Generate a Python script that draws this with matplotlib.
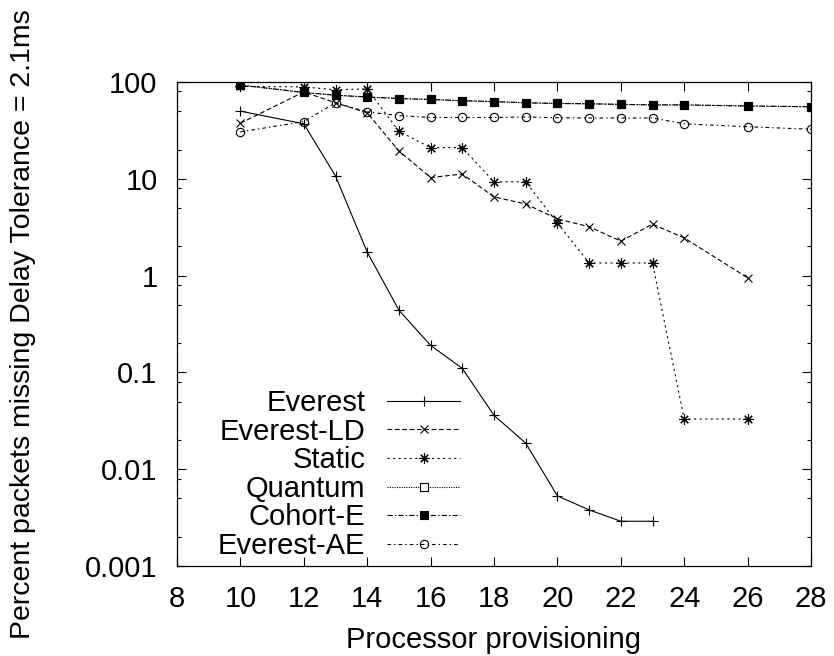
import matplotlib
matplotlib.use('Agg')
import matplotlib.pyplot as plt
from matplotlib.ticker import LogLocator, FixedLocator, NullFormatter

plt.rcParams['font.family'] = ['Liberation Sans', 'DejaVu Sans']
plt.rcParams['font.size'] = 21
plt.rcParams['lines.scale_dashes'] = False

# Fraction of packets missing the 2.1ms delay tolerance, per scheme
x_everest = [10, 12, 13, 14, 15, 16, 17, 18, 19, 20, 21, 22, 23]
everest = [50, 37, 10.7, 1.75, 0.44, 0.19, 0.11, 0.036, 0.0186, 0.0053, 0.0038, 0.0029, 0.0029]

x_ld = [10, 12, 13, 14, 15, 16, 17, 18, 19, 20, 21, 22, 23, 24, 26]
everest_ld = [37.5, 79, 61, 48, 19.4, 10.3, 11.2, 6.5, 5.5, 3.85, 3.2, 2.27, 3.4, 2.45, 0.95]

x_static = [10, 12, 13, 14, 15, 16, 17, 18, 19, 20, 21, 22, 23, 24, 26]
static = [90, 89, 83, 85, 31, 21, 21, 9.3, 9.3, 3.5, 1.35, 1.35, 1.35, 0.033, 0.033]

x_cohort = [10, 12, 13, 14, 15, 16, 17, 18, 19, 20, 21, 22, 23, 24, 26, 28]
quantum = [93, 78, 73, 70, 67.5, 66, 64, 62.7, 61, 60, 59.6, 58.7, 58, 58, 56.5, 55.5]
cohort_e = [93, 78, 73, 70, 67.5, 66, 64, 62.7, 61, 60, 59.6, 58.7, 58, 58, 56.5, 55.5]

x_ae = [10, 12, 13, 14, 15, 16, 17, 18, 19, 20, 21, 22, 23, 24, 26, 28]
everest_ae = [30.5, 39, 61, 49, 45, 43, 43, 43, 43.5, 42.7, 42.5, 42.5, 42.5, 37, 34.5, 32.5]

x_ticks = [8, 10, 12, 14, 16, 18, 20, 22, 24, 26, 28]
y_ticks = [0.001, 0.01, 0.1, 1, 10, 100]
y_ticklabels = ['0.001', '0.01', '0.1', '1', '10', '100']

fig = plt.figure(figsize=(8.34, 6.56), dpi=100)
ax = fig.add_axes([177 / 834, 1 - 566 / 656, 634 / 834, 484 / 656])

lw = 0.8
ax.plot(x_everest, everest, color='black', lw=lw, ls='-', marker='+', ms=7,
        mew=0.8, label='Everest')
ax.plot(x_ld, everest_ld, color='black', lw=lw, ls=(0, (3.4, 1.9)), marker='x',
        ms=6, mew=0.8, label='Everest-LD')
ax.plot(x_static, static, color='black', lw=lw, ls=(0, (1.5, 2.5)), marker=(8, 2, 0),
        ms=7.5, mew=0.8, label='Static')
ax.plot(x_cohort, quantum, color='black', lw=lw, ls=(0, (0.8, 0.9)), marker='s',
        ms=5.5, mew=0.8, mfc='white', label='Quantum', zorder=1.5)
ax.plot(x_cohort, cohort_e, color='black', lw=lw, ls=(0, (3.8, 1.5, 1, 1.5)), marker='s',
        ms=6, mew=0.8, label='Cohort-E')
ax.plot(x_ae, everest_ae, color='black', lw=lw, ls=(0, (2.6, 2.2, 1, 2.2)), marker='o',
        ms=6, mew=0.8, mfc='none', label='Everest-AE')

ax.set_yscale('log')
ax.set_xlim(8, 28)
ax.set_ylim(0.001, 100)
ax.xaxis.set_major_locator(FixedLocator(x_ticks))
ax.yaxis.set_major_locator(FixedLocator(y_ticks))
ax.set_yticklabels(y_ticklabels)
ax.yaxis.set_minor_locator(LogLocator(base=10, subs=[2, 5, 8]))
ax.yaxis.set_minor_formatter(NullFormatter())

for side in ax.spines.values():
    side.set_linewidth(0.9)
ax.tick_params(which='both', direction='in', top=True, right=True, width=0.8)
ax.tick_params(which='major', length=6.5, labelsize=21)
ax.tick_params(axis='x', which='major', pad=14)
ax.tick_params(axis='y', which='major', pad=14)
ax.tick_params(which='minor', length=3.2)

ax.set_xlabel('Processor provisioning', fontsize=21, labelpad=9)
ax.set_ylabel('Percent packets missing Delay Tolerance = 2.1ms', fontsize=20.5)
ax.yaxis.set_label_coords(-0.222, 0.5)

leg = ax.legend(loc='lower right', bbox_to_anchor=((460 - 177) / 634, 6 / 484),
                frameon=False, markerfirst=False, handlelength=2.5,
                handletextpad=0.75, labelspacing=0.02, borderpad=0,
                borderaxespad=0, fontsize=21)

fig.savefig('out.png', dpi=100)
